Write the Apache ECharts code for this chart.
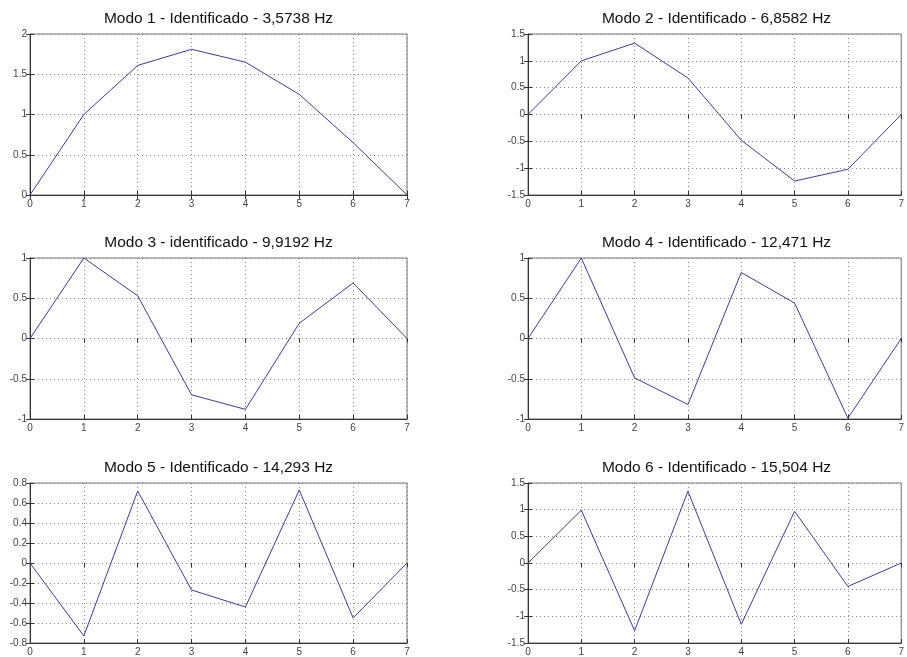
<!DOCTYPE html>
<html>
<head>
<meta charset="utf-8">
<script src="https://cdn.jsdelivr.net/npm/echarts@6/dist/echarts.min.js"></script>
<style>
html,body{margin:0;padding:0;background:#fff;}
#main{width:907px;height:657px;}
</style>
</head>
<body>
<div id="main"></div>
<script>
// ---- data ----
const xValues = [0, 1, 2, 3, 4, 5, 6, 7];
const titles = [
  'Modo 1 - Identificado - 3,5738 Hz',
  'Modo 2 - Identificado - 6,8582 Hz',
  'Modo 3 - identificado - 9,9192 Hz',
  'Modo 4 - Identificado - 12,471 Hz',
  'Modo 5 - Identificado - 14,293 Hz',
  'Modo 6 - Identificado - 15,504 Hz'
];
const mode1 = [0, 1.00, 1.61, 1.81, 1.65, 1.25, 0.65, 0];
const mode2 = [0, 1.00, 1.33, 0.68, -0.48, -1.24, -1.02, 0];
const mode3 = [0, 1.00, 0.53, -0.70, -0.88, 0.19, 0.69, 0];
const mode4 = [0, 1.00, -0.49, -0.82, 0.82, 0.44, -0.99, 0];
const mode5 = [0, -0.73, 0.72, -0.27, -0.44, 0.73, -0.55, 0];
const mode6 = [0, 0.99, -1.27, 1.345, -1.15, 0.97, -0.44, 0];
const modes = [mode1, mode2, mode3, mode4, mode5, mode6];
const yMin = [0, -1.5, -1, -1, -0.8, -1.5];
const yMax = [2, 1.5, 1, 1, 0.8, 1.5];
const yStep = [0.5, 0.5, 0.5, 0.5, 0.2, 0.5];

// ---- layout ----
const colLeft = [30, 528];
const plotW = 377;
const rowTop = [34, 258, 483];
const plotH = 161;
const titleTop = [11, 235, 460];

const lineColor = '#3c3c96';
const font = 'Liberation Sans, Arial, sans-serif';

const grids = [], xAxes = [], yAxes = [], series = [], titleArr = [];
for (let i = 0; i < 6; i++) {
  const r = Math.floor(i / 2), c = i % 2;
  grids.push({
    left: colLeft[c], top: rowTop[r], width: plotW, height: plotH,
    show: true, borderColor: '#777', borderWidth: 1, backgroundColor: '#fff'
  });
  titleArr.push({
    text: titles[i],
    left: colLeft[c] + plotW / 2,
    top: titleTop[r],
    textAlign: 'center',
    padding: 0,
    textStyle: { fontFamily: font, fontSize: 15.5, fontWeight: 'normal', color: '#111' }
  });
  // bottom x axis
  xAxes.push({
    type: 'value', gridIndex: i, min: 0, max: 7, interval: 1, position: 'bottom',
    axisLine: { show: true, onZero: false, lineStyle: { color: '#333', width: 1 } },
    axisTick: { show: true, inside: true, length: 4, lineStyle: { color: '#333' } },
    axisLabel: { show: true, margin: 4, color: '#444', fontSize: 10, fontFamily: font },
    splitLine: { show: true, lineStyle: { type: [1, 3], color: '#888', width: 1 } }
  });
  // top x axis (ticks only)
  xAxes.push({
    type: 'value', gridIndex: i, min: 0, max: 7, interval: 1, position: 'top',
    axisLine: { show: false },
    axisTick: { show: true, inside: true, length: 4, lineStyle: { color: '#333' } },
    axisLabel: { show: false },
    splitLine: { show: false }
  });
  yAxes.push({
    type: 'value', gridIndex: i, min: yMin[i], max: yMax[i], interval: yStep[i], position: 'left',
    axisLine: { show: true, onZero: false, lineStyle: { color: '#333', width: 1 } },
    axisTick: { show: true, inside: true, length: 4, lineStyle: { color: '#333' } },
    axisLabel: { show: true, margin: 3, color: '#444', fontSize: 10, fontFamily: font },
    splitLine: { show: true, lineStyle: { type: [1, 3], color: '#888', width: 1 } }
  });
  yAxes.push({
    type: 'value', gridIndex: i, min: yMin[i], max: yMax[i], interval: yStep[i], position: 'right',
    axisLine: { show: false },
    axisTick: { show: true, inside: true, length: 4, lineStyle: { color: '#333' } },
    axisLabel: { show: false },
    splitLine: { show: false }
  });
  series.push({
    type: 'line',
    xAxisIndex: 2 * i, yAxisIndex: 2 * i,
    data: xValues.map((x, k) => [x, modes[i][k]]),
    symbol: 'none',
    lineStyle: { color: lineColor, width: 1 },
    animation: false
  });
}

const chart = echarts.init(document.getElementById('main'), null, { renderer: 'canvas' });
chart.setOption({
  backgroundColor: '#fff',
  animation: false,
  title: titleArr,
  grid: grids,
  xAxis: xAxes,
  yAxis: yAxes,
  series: series
});
</script>
</body>
</html>
